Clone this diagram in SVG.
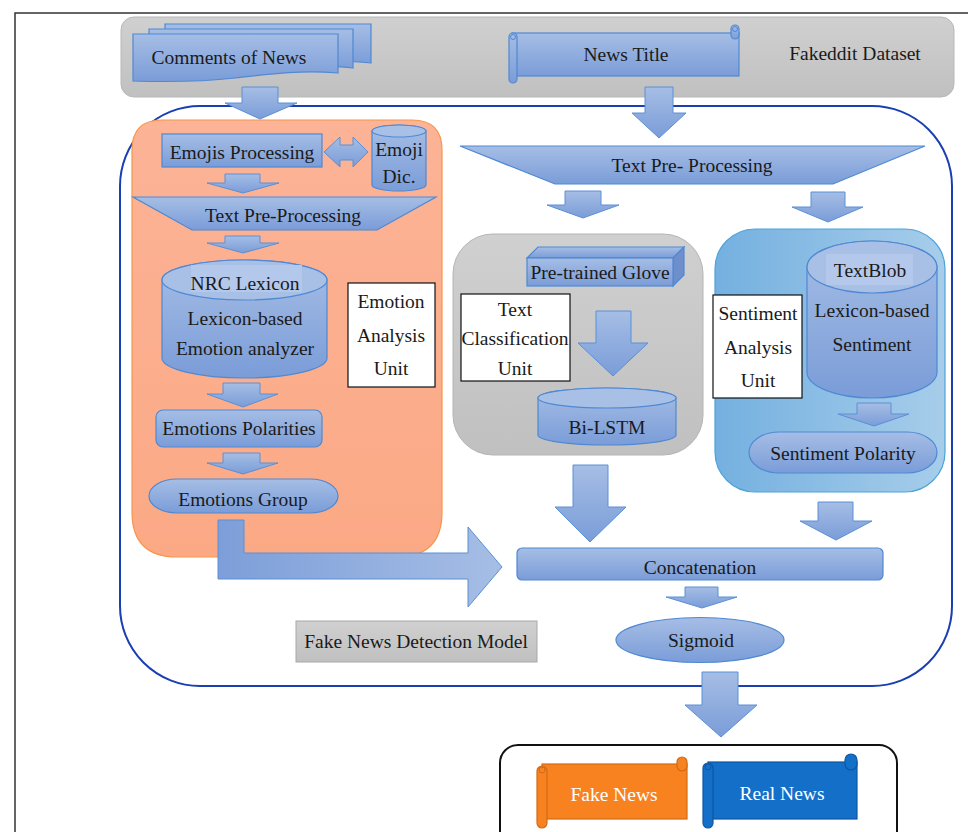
<svg xmlns="http://www.w3.org/2000/svg" width="968" height="832" viewBox="0 0 968 832">
  <defs>
    <linearGradient id="blueV" x1="0" y1="0" x2="0" y2="1">
      <stop offset="0" stop-color="#a6bee5"/>
      <stop offset="1" stop-color="#7a9cd8"/>
    </linearGradient>
    <linearGradient id="blueH" x1="0" y1="0" x2="1" y2="0">
      <stop offset="0" stop-color="#7d9ed9"/>
      <stop offset="1" stop-color="#a6bee5"/>
    </linearGradient>
    <linearGradient id="grayV" x1="0" y1="0" x2="0" y2="1">
      <stop offset="0" stop-color="#d0d0d0"/>
      <stop offset="1" stop-color="#c0c0c0"/>
    </linearGradient>
    <linearGradient id="skyH" x1="0" y1="0" x2="1" y2="0">
      <stop offset="0" stop-color="#74b0e0"/>
      <stop offset="1" stop-color="#a7cdea"/>
    </linearGradient>
    <linearGradient id="salmon" x1="0" y1="0" x2="0" y2="1">
      <stop offset="0" stop-color="#fcb396"/>
      <stop offset="1" stop-color="#fba985"/>
    </linearGradient>
  </defs>
  <style>
    text { font-family: "Liberation Serif", "Times New Roman", serif; font-size: 19.5px; fill: #1a1a1a; text-anchor: middle; }
    .shape { fill: url(#blueV); stroke: #4f89d3; stroke-width: 1.2; }
    .lid { fill: #a9c0e6; stroke: #4f89d3; stroke-width: 1.2; }
    .arrow { fill: url(#blueV); stroke: #5a90d6; stroke-width: 1; }
    .unit { fill: #ffffff; stroke: #111111; stroke-width: 1.2; }
    .label-bg { fill: #b4c8ec; }
    .light { fill: #ffffff; }
  </style>

  <!-- page frame -->
  <path d="M15,832 V13 H968" fill="none" stroke="#333333" stroke-width="1.5"/>

  <!-- dataset banner -->
  <g id="dataset">
    <rect x="121" y="17" width="833" height="80" rx="13" fill="url(#grayV)" stroke="#b8b8b8" stroke-width="1"/>
    <text x="855" y="60">Fakeddit Dataset</text>
  </g>

  <g id="comments">
    <path class="shape" d="M165,24 H371 V63 C340,60 300,62 270,64 L165,64 Z"/>
    <path class="shape" d="M149,29 H353 V68 C320,64 280,67 250,70 L149,70 Z"/>
    <path class="shape" d="M133,34 H338 V73 C300,70 270,74 235,78 C200,82 165,82 133,81 Z"/>
    <text x="229" y="64">Comments of News</text>
  </g>

  <g id="news-title">
    <rect class="shape" x="512" y="33" width="227" height="43"/>
    <rect class="shape" x="731" y="25" width="8" height="14" rx="4"/>
    <rect class="shape" x="509" y="33" width="8" height="50" rx="4"/>
    <circle cx="513" cy="37" r="2.5" fill="none" stroke="#4f89d3" stroke-width="1"/>
    <circle cx="735" cy="29" r="2.5" fill="none" stroke="#4f89d3" stroke-width="1"/>
    <text x="626" y="61">News Title</text>
  </g>

  <!-- model container -->
  <g id="model">
    <rect x="120" y="106" width="832" height="580" rx="80" fill="none" stroke="#1a3fb2" stroke-width="2"/>
  </g>

  <!-- emotion analysis unit -->
  <g id="emotion-unit">
    <path d="M162,120 H412 Q442,120 442,150 V512 Q442,557 397,557 H177 Q132,557 132,512 V150 Q132,120 162,120 Z" fill="url(#salmon)" stroke="#f7964a" stroke-width="1.2"/>
  </g>

  <g id="emojis-processing">
    <rect class="shape" x="162" y="134" width="160" height="33"/>
    <text x="242" y="159">Emojis Processing</text>
  </g>

  <g id="emoji-dic">
    <path class="shape" d="M372,131 A27,6 0 0 1 426,131 V185 A27,6 0 0 1 372,185 Z"/>
    <ellipse class="lid" cx="399" cy="131" rx="27" ry="6"/>
    <text x="399" y="156">Emoji</text>
    <text x="399" y="183">Dic.</text>
  </g>

  <g id="text-preprocessing-comments">
    <path class="shape" d="M133,197 H436 L377,230 H192 Z"/>
    <text x="283" y="222">Text Pre-Processing</text>
  </g>

  <g id="nrc-lexicon">
    <path class="shape" d="M162,280 A82.5,20 0 0 1 327,280 V358 A82.5,20 0 0 1 162,358 Z"/>
    <ellipse class="lid" cx="244.5" cy="280" rx="82.5" ry="20"/>
    <rect class="label-bg" x="191" y="265" width="111" height="27"/>
    <text x="245" y="290">NRC Lexicon</text>
    <text x="245" y="325">Lexicon-based</text>
    <text x="245" y="355">Emotion analyzer</text>
  </g>

  <g id="emotion-label">
    <rect class="unit" x="348" y="283" width="87" height="104"/>
    <text x="391" y="308">Emotion</text>
    <text x="391" y="342">Analysis</text>
    <text x="391" y="375">Unit</text>
  </g>

  <g id="emotions-polarities">
    <rect class="shape" x="156" y="410" width="166" height="37" rx="7"/>
    <text x="239" y="435">Emotions Polarities</text>
  </g>

  <g id="emotions-group">
    <rect class="shape" x="149" y="479" width="189" height="34" rx="28" ry="17"/>
    <text x="243" y="506">Emotions Group</text>
  </g>

  <!-- text classification unit -->
  <g id="text-classification-unit">
    <rect x="453" y="234" width="250" height="221" rx="40" fill="url(#grayV)" stroke="#b4b4b4" stroke-width="1"/>
  </g>

  <g id="text-preprocessing-title">
    <path class="shape" d="M460,146 H925 L833,184 H555 Z"/>
    <text x="692" y="172">Text Pre- Processing</text>
  </g>

  <g id="glove">
    <path class="shape" d="M527,258 L538,247 H684 L673,258 Z" fill="#a9c0e6"/>
    <path d="M673,258 L684,247 V275 L673,286 Z" fill="#6f8fcc" stroke="#4f89d3" stroke-width="1.2"/>
    <rect class="shape" x="527" y="258" width="146" height="28"/>
    <text x="600" y="279">Pre-trained Glove</text>
  </g>

  <g id="classification-label">
    <rect class="unit" x="461" y="294" width="109" height="87"/>
    <text x="515" y="316">Text</text>
    <text x="515" y="345">Classification</text>
    <text x="515" y="375">Unit</text>
  </g>

  <g id="bi-lstm">
    <path class="shape" d="M538,398 A69,10 0 0 1 676,398 V435 A69,10 0 0 1 538,435 Z"/>
    <ellipse class="lid" cx="607" cy="398" rx="69" ry="10"/>
    <text x="607" y="434">Bi-LSTM</text>
  </g>

  <!-- sentiment analysis unit -->
  <g id="sentiment-unit">
    <rect x="715" y="229" width="230" height="263" rx="40" fill="url(#skyH)" stroke="#4ba3dc" stroke-width="1.2"/>
  </g>

  <g id="sentiment-label">
    <rect class="unit" x="713" y="295" width="89" height="103"/>
    <text x="758" y="320">Sentiment</text>
    <text x="758" y="354">Analysis</text>
    <text x="758" y="387">Unit</text>
  </g>

  <g id="textblob">
    <path class="shape" d="M807,267 A65,26 0 0 1 937,267 V372 A65,26 0 0 1 807,372 Z"/>
    <ellipse class="lid" cx="872" cy="267" rx="65" ry="26"/>
    <rect class="label-bg" x="826" y="254" width="87" height="31"/>
    <text x="870" y="277">TextBlob</text>
    <text x="872" y="317">Lexicon-based</text>
    <text x="872" y="351">Sentiment</text>
  </g>

  <g id="sentiment-polarity">
    <rect class="shape" x="749" y="432" width="188" height="41" rx="30" ry="20.5"/>
    <text x="843" y="460">Sentiment Polarity</text>
  </g>

  <g id="concatenation">
    <rect class="shape" x="517" y="548" width="366" height="32" rx="5"/>
    <text x="700" y="574">Concatenation</text>
  </g>

  <g id="sigmoid">
    <ellipse class="shape" cx="700" cy="640" rx="84" ry="22.5"/>
    <text x="701" y="647">Sigmoid</text>
  </g>

  <g id="model-label">
    <rect x="296" y="621" width="241" height="41" fill="url(#grayV)" stroke="#a8a8a8" stroke-width="1"/>
    <text x="416" y="648">Fake News Detection Model</text>
  </g>

  <!-- output classes -->
  <g id="output">
    <rect x="500" y="745" width="397" height="110" rx="18" fill="#ffffff" stroke="#111111" stroke-width="2"/>
  </g>

  <g id="fake-news">
    <rect x="542" y="764" width="145" height="55" fill="#f7821f" stroke="#d26a14" stroke-width="1.2"/>
    <rect x="677" y="757" width="10" height="14" rx="5" fill="#f7821f" stroke="#d26a14" stroke-width="1.2"/>
    <rect x="537" y="766" width="10" height="62" rx="5" fill="#f7821f" stroke="#d26a14" stroke-width="1.2"/>
    <circle cx="542" cy="770" r="3" fill="none" stroke="#d26a14" stroke-width="1"/>
    <text class="light" x="614" y="801">Fake News</text>
  </g>

  <g id="real-news">
    <rect x="708" y="762" width="149" height="57" fill="#146fc8" stroke="#0d57a3" stroke-width="1.2"/>
    <rect x="845" y="754" width="12" height="16" rx="6" fill="#146fc8" stroke="#0d57a3" stroke-width="1.2"/>
    <rect x="703" y="763" width="10" height="65" rx="5" fill="#146fc8" stroke="#0d57a3" stroke-width="1.2"/>
    <circle cx="708" cy="767" r="3" fill="none" stroke="#0d57a3" stroke-width="1"/>
    <text class="light" x="782" y="800">Real News</text>
  </g>

  <!-- block arrows -->
  <g id="connectors">
    <polygon class="arrow" points="242,87 278,87 278,103 297,103 260,119 225,103 242,103"/>
    <polygon class="arrow" points="645,87 673,87 673,113 686,113 659,138 632,113 645,113"/>
    <polygon class="arrow" points="324,152 340,137 340,145 353,145 353,137 368,152 353,167 353,160 340,160 340,167"/>
    <polygon class="arrow" points="225,174 260,174 260,183 279,183 243,193 207,183 225,183"/>
    <polygon class="arrow" points="225,236 260,236 260,243 279,243 243,253 207,243 225,243"/>
    <polygon class="arrow" points="223,383 260,383 260,394 278,394 243,407 207,394 223,394"/>
    <polygon class="arrow" points="223,453 260,453 260,463 278,463 243,474 207,463 223,463"/>
    <polygon class="arrow" points="565,191 601,191 601,205 619,205 583,218 547,205 565,205"/>
    <polygon class="arrow" points="811,192 845,192 845,207 863,207 828,222 792,207 811,207"/>
    <polygon class="arrow" points="596,311 631,311 631,343 648,343 613,376 578,343 596,343"/>
    <polygon class="arrow" points="857,403 891,403 891,414 909,414 874,426 838,414 857,414"/>
    <polygon class="arrow" points="573,465 608,465 608,507 626,507 590,542 555,507 573,507"/>
    <polygon class="arrow" points="818,502 853,502 853,521 872,521 836,540 800,521 818,521"/>
    <polygon class="arrow" points="685,587 718,587 718,597 737,597 702,608 666,597 685,597"/>
    <polygon class="arrow" points="702,672 738,672 738,705 757,705 721,737 685,705 702,705"/>
    <polygon points="218,520 244,520 244,553 468,553 468,527 502,567 468,607 468,579 218,579" fill="url(#blueH)" stroke="#5a90d6" stroke-width="1"/>
  </g>
</svg>
